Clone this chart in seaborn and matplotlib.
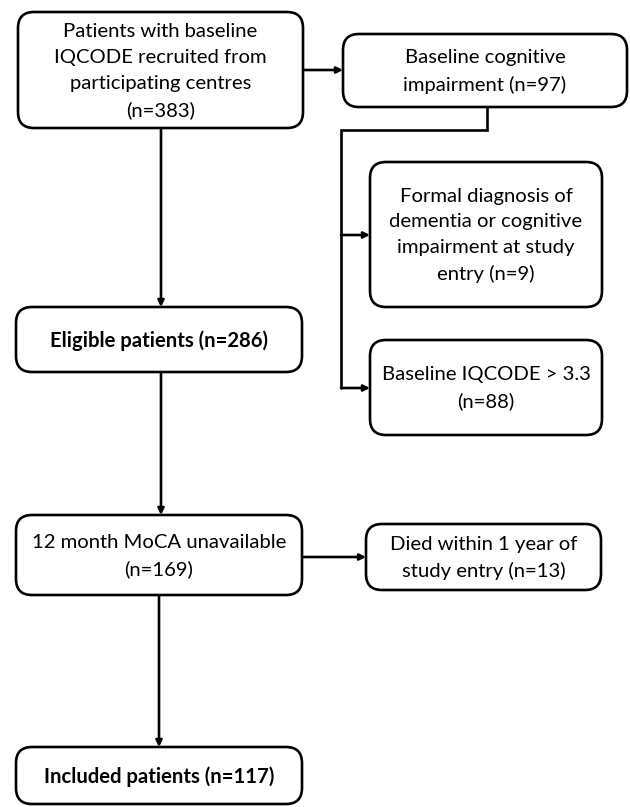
import matplotlib.pyplot as plt
import seaborn as sns
from matplotlib.patches import FancyBboxPatch

# Flow chart content
stages = ['recruited', 'cog_impair', 'formal_dx', 'iqcode', 'eligible', 'moca', 'died', 'included']
labels = [
    'Patients with baseline\nIQCODE recruited from\nparticipating centres\n(n={})',
    'Baseline cognitive\nimpairment (n={})',
    'Formal diagnosis of\ndementia or cognitive\nimpairment at study\nentry (n={})',
    'Baseline IQCODE > 3.3\n(n={})',
    'Eligible patients (n={})',
    '12 month MoCA unavailable\n(n={})',
    'Died within 1 year of\nstudy entry (n={})',
    'Included patients (n={})',
]
counts = [383, 97, 9, 88, 286, 169, 13, 117]
bold = [False, False, False, False, True, False, False, True]

# box geometry in pixels: left, top, right, bottom
boxes = {
    'recruited': (18, 12, 303, 128),
    'cog_impair': (343, 34, 627, 107),
    'formal_dx': (370, 162, 602, 307),
    'iqcode': (370, 340, 602, 435),
    'eligible': (16, 307, 302, 372),
    'moca': (16, 515, 302, 595),
    'died': (366, 524, 601, 590),
    'included': (16, 747, 302, 804),
}

sns.set_theme(style='white')
plt.rcParams['font.family'] = ['Lato', 'DejaVu Sans']

fig = plt.figure(figsize=(6.3, 8.07), dpi=100)
ax = fig.add_axes([0, 0, 1, 1])
ax.set_xlim(0, 630)
ax.set_ylim(807, 0)
ax.axis('off')

lw = 1.9
for key, lab, n, b in zip(stages, labels, counts, bold):
    x0, y0, x1, y1 = boxes[key]
    ax.add_patch(FancyBboxPatch((x0, y0), x1 - x0, y1 - y0,
                                boxstyle='round,pad=0,rounding_size=16',
                                fc='white', ec='black', lw=lw, zorder=2))
    ax.text((x0 + x1) / 2, (y0 + y1) / 2 + 1, lab.format(n), ha='center', va='center',
            fontsize=14.6, fontweight='bold' if b else 'normal', color='black',
            linespacing=1.62, zorder=3)

arrow_kw = dict(arrowstyle='-|>', color='black', lw=lw, mutation_scale=9,
                shrinkA=0, shrinkB=0)

def arrow(p0, p1):
    ax.annotate('', xy=p1, xytext=p0, arrowprops=arrow_kw, zorder=1)

# main vertical flow
arrow((161, 128), (161, 307))
arrow((161, 372), (161, 515))
arrow((159, 595), (159, 747))

# side branches
arrow((303, 70), (343, 70))
arrow((302, 557), (366, 557))

# exclusion split
ax.plot([487, 487, 341, 341], [107, 130, 130, 388], color='black', lw=lw, zorder=1,
        solid_joinstyle='miter')
arrow((341, 235), (370, 235))
arrow((341, 388), (370, 388))

fig.savefig('out.png', dpi=100, facecolor='white')
